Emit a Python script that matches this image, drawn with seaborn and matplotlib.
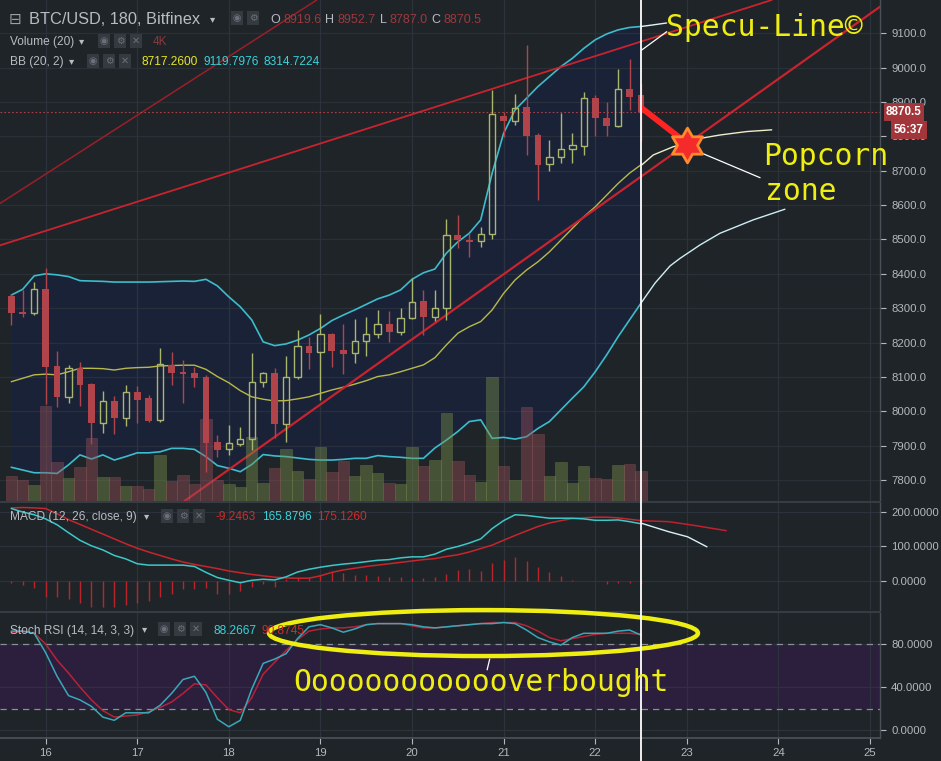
import numpy as np
import pandas as pd
import matplotlib
matplotlib.use("Agg")
import matplotlib.pyplot as plt
import matplotlib.transforms as mtransforms
from matplotlib.patches import Ellipse
from matplotlib.path import Path
from matplotlib.lines import Line2D
import seaborn as sns

# ---------------- data ----------------
times = pd.date_range("2018-04-15 15:00", periods=56, freq="3h")

opens = [8335, 8290, 8285, 8355, 8132, 8042, 8125, 8078, 7967, 8030,
         7981, 8056, 8039, 7974, 8134, 8113, 8110, 8101, 7910, 7889,
         7905, 7918, 8084, 8110, 7962, 8099, 8189, 8172, 8224, 8178,
         8169, 8205, 8224, 8253, 8232, 8271, 8321, 8275, 8300, 8513,
         8499, 8496, 8515, 8860, 8846, 8885, 8804, 8719, 8739, 8762,
         8773, 8911, 8853, 8831, 8938, 8919.6]
highs = [8342, 8353, 8377, 8416, 8176, 8135, 8144, 8082, 8059, 8044,
         8076, 8074, 8047, 8183, 8172, 8149, 8128, 8105, 7931, 7959,
         7955, 8169, 8115, 8125, 8161, 8237, 8217, 8282, 8228, 8254,
         8268, 8273, 8295, 8292, 8300, 8387, 8353, 8353, 8559, 8571,
         8518, 8537, 8935, 8870, 8923, 9066, 8810, 8789, 8869, 8809,
         8930, 8920, 8901, 8995, 9025, 8952.7]
lows = [8251, 8274, 8280, 8020, 8013, 8023, 8016, 7904, 7938, 7933,
        7957, 7967, 7968, 7970, 8076, 8023, 8072, 7824, 7868, 7873,
        7899, 7887, 8071, 7921, 7911, 8095, 8122, 8033, 8130, 8108,
        8140, 8161, 8212, 8202, 8222, 8268, 8222, 8263, 8266, 8474,
        8450, 8477, 8501, 8799, 8833, 8746, 8615, 8700, 8723, 8723,
        8746, 8801, 8801, 8828, 8877, 8787.0]
closes = [8287, 8284, 8355, 8130, 8042, 8125, 8076, 7967, 8029, 7981,
          8055, 8033, 7972, 8137, 8112, 8109, 8098, 7908, 7887, 7907,
          7918, 8084, 8110, 7963, 8099, 8189, 8169, 8224, 8176, 8167,
          8205, 8224, 8253, 8232, 8271, 8319, 8275, 8300, 8513, 8498,
          8494, 8515, 8864, 8846, 8883, 8801, 8717, 8739, 8762, 8775,
          8911, 8853, 8831, 8937, 8915, 8870.5]
volume_k = [3.33, 2.80, 2.13, 12.67, 5.20, 3.03, 4.53, 8.36, 3.20, 3.20,
            2.00, 2.00, 1.56, 6.09, 2.67, 3.47, 2.31, 10.89, 2.76, 2.31,
            1.87, 8.53, 2.44, 4.44, 6.89, 4.00, 2.89, 7.20, 3.87, 5.29,
            3.33, 4.76, 3.69, 2.36, 2.23, 7.24, 4.67, 5.43, 11.77, 5.33,
            3.47, 2.53, 16.53, 4.67, 2.76, 12.53, 8.89, 3.33, 5.20, 2.36,
            4.67, 3.11, 2.97, 4.80, 4.89, 4.00]
bb_upper = [8338, 8355, 8394, 8400, 8397, 8392, 8380, 8379, 8378, 8376,
            8376, 8376, 8376, 8377, 8378, 8379, 8378, 8384, 8365, 8333,
            8304, 8266, 8202, 8191, 8196, 8207, 8222, 8241, 8264, 8280,
            8295, 8311, 8327, 8338, 8353, 8384, 8403, 8414, 8460, 8493,
            8518, 8557, 8693, 8809, 8877, 8911, 8945, 8974, 9003, 9027,
            9056, 9081, 9098, 9110, 9117, 9119.8]
bb_middle = [8086, 8096, 8106, 8108, 8106, 8115, 8125, 8125, 8124, 8120,
             8125, 8127, 8128, 8132, 8133, 8134, 8134, 8122, 8101, 8083,
             8060, 8042, 8035, 8030, 8031, 8036, 8042, 8052, 8062, 8070,
             8079, 8089, 8101, 8106, 8115, 8125, 8135, 8156, 8193, 8227,
             8246, 8261, 8295, 8343, 8382, 8411, 8435, 8464, 8498, 8532,
             8566, 8595, 8629, 8663, 8693, 8717.3]
bb_lower = [7837, 7829, 7821, 7821, 7819, 7844, 7873, 7861, 7873, 7858,
            7868, 7879, 7879, 7882, 7892, 7892, 7889, 7868, 7842, 7834,
            7824, 7845, 7874, 7870, 7868, 7864, 7860, 7858, 7858, 7860,
            7863, 7863, 7871, 7868, 7866, 7863, 7863, 7893, 7916, 7941,
            7970, 7975, 7921, 7924, 7919, 7926, 7950, 7970, 8004, 8038,
            8071, 8115, 8164, 8217, 8266, 8314.7]
macd_line = [210, 200, 192, 180, 163, 140, 118, 102, 90, 74,
             64, 50, 46, 46, 46, 46, 42, 25, 10, 2,
             -5, 2, 5, 3, 12, 26, 34, 40, 45, 49,
             52, 56, 60, 62, 67, 70, 70, 78, 92, 100,
             110, 122, 152, 175, 192, 190, 186, 182, 182, 182,
             180, 176, 176, 177, 172, 165.9]
macd_signal = [212, 213, 212, 210, 195, 178, 164, 150, 136, 122,
               108, 95, 84, 74, 64, 55, 48, 42, 36, 29,
               24, 19, 15, 11, 9, 8, 8, 15, 25, 32,
               37, 42, 46, 50, 54, 58, 62, 65, 71, 76,
               84, 94, 104, 118, 132, 145, 158, 168, 175, 181,
               183, 185, 185, 183, 179, 175.1]
macd_hist = [-5, -12, -20, -45, -45, -53, -65, -76, -76, -74,
             -70, -65, -57, -45, -38, -24, -24, -21, -38, -38,
             -28, -18, -9, -18, 6, 11, 13, 17, 27, 24,
             17, 17, 14, 13, 13, 8, 8, 11, 20, 32,
             35, 30, 53, 61, 69, 59, 42, 27, 14, 3,
             0, 0, -9, -7, -5, -9.2]
stoch_k = [92, 92, 90, 72, 50, 32, 28, 22, 12, 9,
           16, 16, 16, 23, 34, 47, 50, 35, 10, 3,
           9, 38, 62, 66, 71, 85, 96, 98, 95, 91,
           94, 98, 99, 99, 99, 98, 96, 95, 96, 97,
           98, 99, 99, 100, 99, 93, 86, 82, 79, 86,
           90, 90, 90, 92, 93, 88.3]
stoch_d = [90, 92, 90, 80, 65, 53, 40, 28, 18, 12,
           13, 14, 17, 21, 26, 34, 43, 42, 30, 19,
           16, 30, 52, 63, 74, 84, 92, 94, 95, 95,
           96, 98, 99, 99, 99, 97, 95, 95, 96, 97,
           98, 99, 100, 100, 100, 97, 92, 86, 83, 85,
           87, 89, 90, 90, 90, 89]

# hand-drawn projections after the cursor (day-of-month, value)
proj_upper_day = [22.50, 22.62, 22.78]
proj_upper_val = [9119.8, 9124, 9130]
proj_mid_day = [22.508, 22.634, 22.853, 22.999, 23.144, 23.362, 23.654, 23.927]
proj_mid_val = [8717, 8746, 8770, 8780, 8794, 8804, 8814, 8819]
proj_low_day = [22.50, 22.653, 22.817, 22.926, 23.144, 23.362, 23.725, 24.071]
proj_low_val = [8315, 8373, 8423, 8445, 8484, 8518, 8557, 8588]
proj_macd_day = [22.51, 22.80, 23.01, 23.22]
proj_macd_val = [167, 143, 128, 99]
proj_sig_day = [22.49, 22.80, 23.06, 23.43]
proj_sig_val = [175, 172, 162, 146]

day_ticks = [16, 17, 18, 19, 20, 21, 22, 23, 24, 25]
price_ticks = [7800, 7900, 8000, 8100, 8200, 8300, 8400, 8500, 8600, 8700,
               8800, 8900, 9000, 9100]
macd_ticks = [0, 100, 200]
stoch_ticks = [0, 40, 80]
last_price = 8870.5
cursor_day = 22.5

# ---------------- style ----------------
BG = "#1f2428"
BAND = "#1a2238"
GRID = "#2c333c"
TXT = "#b4b8be"
RED = "#b0444a"
GREEN = "#a9b66c"
CYAN = "#3cbccc"
YEL = "#b9b94a"
ANN = "#eeee12"

sns.set_theme(style="dark", rc={"axes.facecolor": BG, "figure.facecolor": BG})
plt.rcParams["font.family"] = ["Liberation Sans", "DejaVu Sans"]

W, H = 941, 761
fig = plt.figure(figsize=(W / 100, H / 100), dpi=100)
fig.patch.set_facecolor(BG)


def axes_px(x0, y0, x1, y1):
    return fig.add_axes([x0 / W, 1 - y1 / H, (x1 - x0) / W, (y1 - y0) / H])


def px(x, y):
    return x / W, 1 - y / H


ax = axes_px(0, 0, 880, 501)
axm = axes_px(0, 502, 880, 610)
axs = axes_px(0, 612, 880, 738)

x = np.asarray(times.day + times.hour / 24.0, dtype=float)
o = np.asarray(opens, float); h = np.asarray(highs, float)
l = np.asarray(lows, float); c = np.asarray(closes, float)
XL = (15.502, 25.109)

for a in (ax, axm, axs):
    a.set_facecolor(BG)
    a.set_xlim(*XL)
    for d in day_ticks:
        a.axvline(d, color=GRID, lw=0.9, zorder=1)
    for s in ("left", "top", "bottom"):
        a.spines[s].set_visible(False)
    a.spines["right"].set_color("#4a5058")
    a.spines["right"].set_linewidth(1.0)
    a.yaxis.tick_right()
    a.tick_params(axis="y", colors=TXT, labelsize=8.2, length=4, width=0.8,
                  pad=4, direction="out", right=True, left=False)
    a.tick_params(axis="x", bottom=False, labelbottom=False)

# ---- main panel ----
ax.set_ylim(7738.8, 9196.9)
ax.fill_between(x, bb_lower, bb_upper, color=BAND, zorder=0.5, lw=0)
for p in price_ticks:
    ax.axhline(p, color=GRID, lw=0.9, zorder=1.2, alpha=0.85)
ax.set_yticks(price_ticks)
ax.set_yticklabels([f"{p:.1f}" for p in price_ticks])

# volume overlay (axes-fraction scale)
VOL_MAX = 66.8
vtrans = mtransforms.blended_transform_factory(ax.transData, ax.transAxes)
up = c >= o
vfrac = np.asarray(volume_k) / VOL_MAX
ax.bar(x[up], vfrac[up], width=0.125, bottom=0, transform=vtrans,
       color="#7a9248", alpha=0.42, edgecolor="#8aa058", linewidth=0.4, zorder=3)
ax.bar(x[~up], vfrac[~up], width=0.125, bottom=0, transform=vtrans,
       color="#9a5058", alpha=0.42, edgecolor="#a86068", linewidth=0.4, zorder=3)

# Bollinger bands
sns.lineplot(x=x, y=bb_upper, ax=ax, color=CYAN, lw=1.2, zorder=2.5, legend=False)
sns.lineplot(x=x, y=bb_lower, ax=ax, color=CYAN, lw=1.2, zorder=2.5, legend=False)
sns.lineplot(x=x, y=bb_middle, ax=ax, color=YEL, lw=1.0, zorder=2.5, legend=False)
ax.plot(proj_upper_day, proj_upper_val, color="#dff4f6", lw=1.0, zorder=2.5)
ax.plot(proj_mid_day, proj_mid_val, color="#efeccc", lw=1.0, zorder=2.5)
ax.plot(proj_low_day, proj_low_val, color="#cdeef4", lw=1.0, zorder=2.5)

# trend lines (Specu-Line)
TL = "#c8232e"
ax.axline((18.777, 8760.4), (21.867, 9022.3), color=TL, lw=1.3, zorder=2.6)
ax.axline((17.685, 8978.6), (18.960, 9196.9), color="#9a1f28", lw=1.1, zorder=2.6)
ax.axline((20.451, 8294.7), (25.109, 9177.3), color=TL, lw=1.6, zorder=2.6)

# last price dotted line
ax.axhline(last_price, color="#b04048", lw=0.8, ls=(0, (1.5, 2)), zorder=2.7)

# candles
bl = np.minimum(o, c); bh = np.maximum(o, c)
ax.vlines(x[up], bh[up], h[up], color=GREEN, lw=1.0, zorder=4)
ax.vlines(x[up], l[up], bl[up], color=GREEN, lw=1.0, zorder=4)
ax.vlines(x[~up], l[~up], h[~up], color=RED, lw=1.0, zorder=4)
ax.bar(x[~up], np.maximum(bh - bl, 4)[~up], bottom=bl[~up], width=0.074,
       color=RED, lw=0, zorder=5)
ax.bar(x[up], np.maximum(bh - bl, 3)[up], bottom=bl[up], width=0.070,
       facecolor="none", edgecolor=GREEN, lw=1.0, zorder=5)

# red arrow and star
ax.plot([22.49, 23.0], [8886, 8780], color="#ff2424", lw=4.2,
        solid_capstyle="butt", zorder=7)
ang = np.deg2rad(90 + 30 * np.arange(12))
rad = np.where(np.arange(12) % 2 == 0, 1.0, 0.577)
verts = np.column_stack([rad * np.cos(ang), rad * np.sin(ang)])
verts = np.vstack([verts, verts[:1]])
codes = [Path.MOVETO] + [Path.LINETO] * 11 + [Path.CLOSEPOLY]
star = Path(verts, codes)
ax.plot([23.0], [8775], marker=star, markersize=25, markerfacecolor="#f52a2a",
        markeredgecolor="#ff8a30", markeredgewidth=2.0, zorder=8)

# annotation pointer lines
ax.plot([22.508, 22.781], [9051.4, 9104.7], color="white", lw=0.9, zorder=6)
ax.plot([23.126, 23.80], [8755.4, 8679.7], color="white", lw=0.9, zorder=6)

# ---- MACD panel ----
axm.set_ylim(-84.1, 229)
for v in macd_ticks:
    axm.axhline(v, color=GRID, lw=0.9, zorder=1)
axm.set_yticks(macd_ticks)
axm.set_yticklabels([f"{v:.4f}" for v in macd_ticks])
axm.spines["top"].set_visible(True)
axm.spines["top"].set_color("#3a4048")
axm.vlines(x, 0, macd_hist, color="#b8262c", lw=1.0, zorder=2)
sns.lineplot(x=x, y=macd_signal, ax=axm, color="#c8252c", lw=1.1, zorder=3, legend=False)
sns.lineplot(x=x, y=macd_line, ax=axm, color="#3cc8c8", lw=1.1, zorder=3, legend=False)
axm.plot(proj_sig_day, proj_sig_val, color="#c02030", lw=1.1, zorder=3)
axm.plot(proj_macd_day, proj_macd_val, color="#d8f2f8", lw=1.0, zorder=3)

# ---- Stoch RSI panel ----
axs.set_ylim(-7.44, 109.8)
axs.axhspan(20, 80, color="#2b1f3d", zorder=0.5, lw=0)
for v in stoch_ticks:
    axs.axhline(v, color=GRID, lw=0.9, zorder=1)
axs.axhline(80, color="#8a8e9a", lw=0.9, ls=(0, (5, 4)), zorder=1.5)
axs.axhline(20, color="#8a8e9a", lw=0.9, ls=(0, (5, 4)), zorder=1.5)
axs.set_yticks(stoch_ticks)
axs.set_yticklabels([f"{v:.4f}" for v in stoch_ticks])
axs.spines["top"].set_visible(True)
axs.spines["top"].set_color("#3a4048")
axs.spines["bottom"].set_visible(True)
axs.spines["bottom"].set_color("#4a5058")
sns.lineplot(x=x, y=stoch_d, ax=axs, color="#b82238", lw=1.1, zorder=3, legend=False)
sns.lineplot(x=x, y=stoch_k, ax=axs, color="#3aa8b8", lw=1.1, zorder=3, legend=False)
axs.set_xticks(day_ticks)
axs.set_xticklabels([str(d) for d in day_ticks])
axs.tick_params(axis="x", bottom=True, labelbottom=True, colors=TXT,
                labelsize=8.2, length=4, width=0.8, pad=3)
ell = Ellipse((20.78, 90.2), 4.683, 42.8, fill=False, edgecolor=ANN,
              lw=3.2, zorder=9, clip_on=False)
axs.add_patch(ell)
axs.plot([20.848, 20.82], [66, 56], color="white", lw=0.9, zorder=6)

for a in (ax, axm, axs):
    a.set_xlabel(""); a.set_ylabel("")

# cursor line through all panels
ctrans = mtransforms.blended_transform_factory(ax.transData, fig.transFigure)
fig.add_artist(Line2D([cursor_day, cursor_day], [0, 1], transform=ctrans,
                      color="white", lw=1.3, zorder=20))

# ---------------- texts ----------------
MONO = ["DejaVu Sans Mono"]
fig.text(*px(666, 36), "Specu-Line©", family=MONO, fontsize=21.4, color=ANN,
         ha="left", va="baseline", zorder=30)
fig.text(*px(763, 165), "Popcorn", family=MONO, fontsize=21.4, color=ANN,
         ha="left", va="baseline", zorder=30)
fig.text(*px(765, 200), "zone", family=MONO, fontsize=21.4, color=ANN,
         ha="left", va="baseline", zorder=30)
fig.text(*px(293, 691), "Ooooooooooooverbought", family=MONO, fontsize=21.4,
         color=ANN, ha="left", va="baseline", zorder=30)

HF = ["Liberation Sans", "DejaVu Sans"]
SYM = ["DejaVu Sans"]
FS = 8.6


def icons(x0, yc, n):
    glyphs = ["◉", "⚙", "✕"]
    for i in range(n):
        fig.text(*px(x0 + i * 16 + 7, yc), glyphs[i], family=SYM, fontsize=7.0,
                 color="#6a7078", ha="center", va="center", zorder=30,
                 bbox=dict(boxstyle="square,pad=0.18", fc="#353a41", ec="none"))


def label(xp, yp, s, color="#b8bcc2", size=FS, z=30):
    fig.text(*px(xp, yp), s, family=HF, fontsize=size, color=color,
             ha="left", va="baseline", zorder=z)


def caret(xp, yp):
    fig.text(*px(xp, yp), "▾", family=SYM, fontsize=7.5, color="#b8bcc2",
             ha="left", va="center", zorder=30)


fig.text(*px(9, 19), "⊟", family=SYM, fontsize=11, color="#9aa0a6",
         ha="left", va="center", zorder=30)
label(29, 24, "BTC/USD, 180, Bitfinex", size=11.8)
caret(210, 19)
icons(230, 18, 2)
ohlc = [("O", 270, "8919.6", 283), ("H", 325, "8952.7", 338),
        ("L", 380, "8787.0", 389), ("C", 431, "8870.5", 443)]
for lab, lx, val, vx in ohlc:
    label(lx, 23, lab, size=9.0)
    label(vx, 23, val, color="#9a3a3e", size=9.0)

label(10, 45, "Volume (20)")
caret(79, 41)
icons(97, 41, 3)
label(153, 45, "4K", color="#8a3a3e")

label(10, 65, "BB (20, 2)")
caret(69, 61)
icons(86, 61, 3)
label(142, 65, "8717.2600", color="#e6e628")
label(203, 65, "9119.7976", color="#3ad2da")
label(264, 65, "8314.7224", color="#3ad2da")

label(10, 520, "MACD (12, 26, close, 9)")
caret(144, 516)
icons(160, 516, 3)
label(216, 520, "-9.2463", color="#d42a2a")
label(262, 520, "165.8796", color="#3ad2da")
label(317, 520, "175.1260", color="#d42a2a")

label(10, 634, "Stoch RSI (14, 14, 3, 3)")
caret(142, 629)
icons(157, 629, 3)
label(213, 634, "88.2667", color="#3ad2da")
label(262, 634, "90.8745", color="#d42a2a", z=8)

# price labels on the right axis
fig.text(*px(904, 112), f"{last_price:.1f}", family=HF, fontsize=8.4,
         color="white", weight="bold", ha="center", va="center", zorder=30,
         bbox=dict(boxstyle="square,pad=0.22", fc="#a3363a", ec="none"))
fig.text(*px(909, 130), "56:37", family=HF, fontsize=8.4, color="white",
         weight="bold", ha="center", va="center", zorder=30,
         bbox=dict(boxstyle="square,pad=0.22", fc="#a3363a", ec="none"))

fig.savefig("out.png", dpi=100, facecolor=BG)
